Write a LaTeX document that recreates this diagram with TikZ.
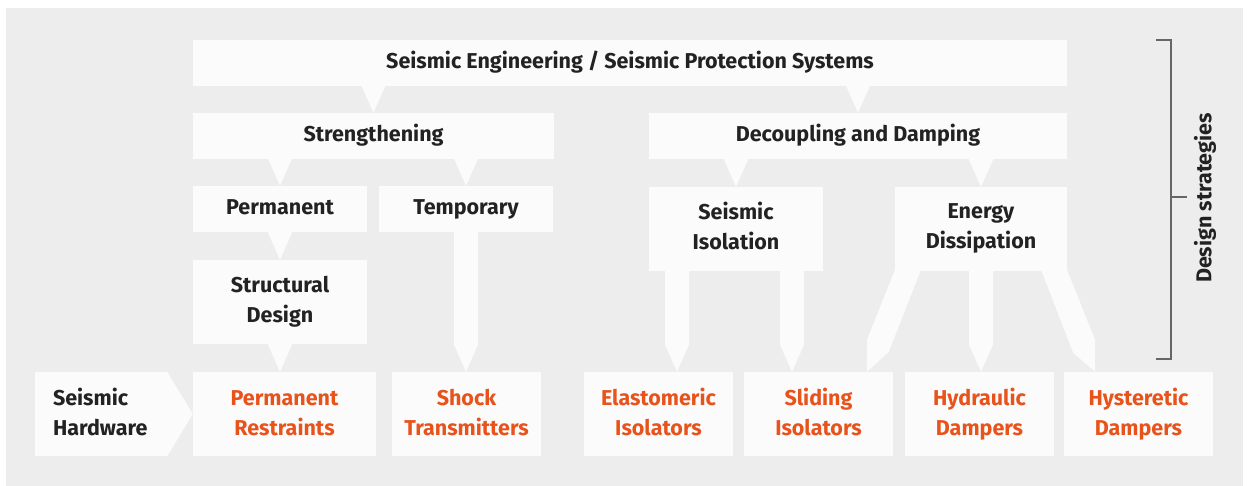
\documentclass[tikz,border=0pt]{standalone}
\usepackage{fontspec}
\setmainfont{Fira Sans}
\usetikzlibrary{calc}
\definecolor{bgc}{HTML}{EDEDED}
\definecolor{boxc}{HTML}{FBFBFB}
\definecolor{darkc}{HTML}{222222}
\definecolor{orc}{HTML}{E8531C}
\definecolor{brc}{HTML}{666666}
\newcommand\fs{\fontsize{21.5}{30}\selectfont\bfseries}
% arrow connector: parent, child, x-reference
\newcommand\arr[3]{%
  \fill[conn] ($(#3 |- #1.south)+(-12,-1)$) -- ($(#3 |- #2.north)+(-12,-27)$) -- (#3 |- #2.north)
     -- ($(#3 |- #2.north)+(12,-27)$) -- ($(#3 |- #1.south)+(12,-1)$) -- cycle;}
\begin{document}
\begin{tikzpicture}[x=1pt,y=-1pt,
  box/.style={fill=boxc, inner sep=0pt, align=center, font=\fs, text=darkc},
  outbox/.style={box, text=orc, minimum height=84pt},
  conn/.style={fill=boxc, draw=none},
  brk/.style={draw=brc, line width=1.3pt}]
\useasboundingbox (0,0) rectangle (1248,486);
\fill[bgc] (6,8) rectangle (1243,486);

% strategy boxes
\node[box, minimum width=874pt, minimum height=46pt] (top) at (630,63) {\strut Seismic Engineering / Seismic Protection Systems};
\node[box, minimum width=361pt, minimum height=46pt] (str) at (373.5,136) {\strut Strengthening};
\node[box, minimum width=418pt, minimum height=46pt] (dec) at (858,136) {\strut Decoupling and Damping};
\node[box, minimum width=174pt, minimum height=46pt] (perm) at (280,209) {\strut Permanent};
\node[box, minimum width=174pt, minimum height=46pt] (temp) at (466,209) {\strut Temporary};
\node[box, minimum width=174pt, minimum height=84pt] (struct) at (280,302) {\strut Structural\\\strut Design};
\node[box, minimum width=174pt, minimum height=84pt] (si) at (736,229) {\strut Seismic\\\strut Isolation};
\node[box, minimum width=172pt, minimum height=84pt] (ed) at (981,229) {\strut Energy\\\strut Dissipation\vspace{2pt}};

% hardware boxes
\node[box, minimum height=84pt, text width=97pt, inner xsep=18pt, align=left] (hw) at (101.5,414) {\strut Seismic\\\strut Hardware};
\node[outbox, minimum width=183pt] (pr) at (284.5,414) {\strut Permanent\\\strut Restraints};
\node[outbox, minimum width=149pt] (sh) at (466.5,414) {\strut Shock\\\strut Transmitters};
\node[outbox, minimum width=149pt] (el) at (658.5,414) {\strut Elastomeric\\\strut Isolators};
\node[outbox, minimum width=149pt] (sl) at (818.5,414) {\strut Sliding\\\strut Isolators};
\node[outbox, minimum width=149pt] (hy) at (979.5,414) {\strut Hydraulic\\\strut Dampers};
\node[outbox, minimum width=149pt] (hs) at (1138.5,414) {\strut Hysteretic\\\strut Dampers};

% connectors
\coordinate (xel) at (677,0);
\coordinate (xsl) at (792,0);
\arr{top}{str}{str}
\arr{top}{dec}{dec}
\arr{str}{perm}{perm}
\arr{str}{temp}{temp}
\arr{perm}{struct}{struct}
\arr{struct}{pr}{struct}
\arr{temp}{sh}{temp}
\arr{dec}{si}{si}
\arr{dec}{ed}{ed}
\arr{si}{el}{xel}
\arr{si}{sl}{xsl}
\arr{ed}{hy}{ed}
% diagonal legs of Energy Dissipation
\fill[conn] ($(ed.south west)+(0,-1)$) -- ($(ed.south west)+(-28,69)$) -- ($(ed.south west |- sl.north)+(-28,0)$)
  -- ($(ed.south west |- sl.north)+(-6,-20)$) -- ($(ed.south west)+(26,-1)$) -- cycle;
\fill[conn] ($(ed.south east)+(0,-1)$) -- ($(ed.south east)+(28,69)$) -- ($(ed.south east |- hs.north)+(28,0)$)
  -- ($(ed.south east |- hs.north)+(6,-19)$) -- ($(ed.south east)+(-26,-1)$) -- cycle;
% hardware pointer
\fill[conn] ($(hw.north east)+(-1,0)$) -- (hw.east -| pr.west) -- ($(hw.south east)+(-1,0)$) -- cycle;

% bracket
\coordinate (bt) at (1171,40);
\coordinate (bb) at (1171,359);
\coordinate (bm) at (1171,197);
\draw[brk] ($(bt)+(-15,0)$) -- (bt) -- (bb) -- ($(bb)+(-15,0)$);
\draw[brk] (bm) -- ($(bm)+(16,0)$);
\node[font=\fs, text=darkc, rotate=90, inner sep=0pt] (ds) at (1205,198) {Design strategies};
\end{tikzpicture}
\end{document}
